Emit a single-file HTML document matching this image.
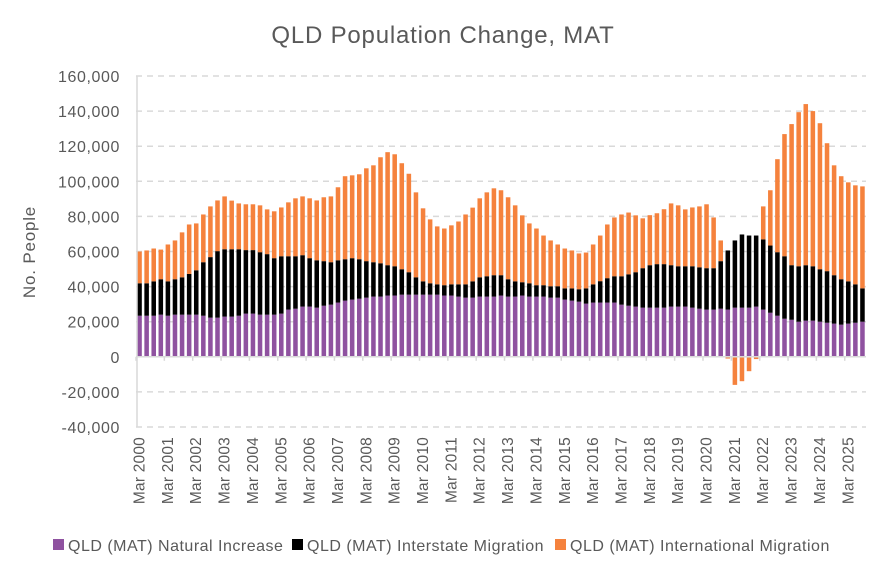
<!DOCTYPE html>
<html><head><meta charset="utf-8">
<style>
body{margin:0;background:#fff;}
svg{display:block;font-family:"Liberation Sans",sans-serif;}
</style></head>
<body>
<svg id="chart" width="886" height="576" viewBox="0 0 886 576">
<rect width="886" height="576" fill="#fff"/>
<text x="443" y="43" text-anchor="middle" font-size="24" letter-spacing="0.8" fill="#595959">QLD Population Change, MAT</text>
<text transform="translate(35,252) rotate(-90)" text-anchor="middle" font-size="17" letter-spacing="0.8" fill="#595959">No. People</text>
<g id="grid"></g><g id="bars"></g><g id="axes"></g>
<g font-size="16" letter-spacing="0.5">
<rect x="53" y="539" width="11" height="11" fill="#8f52a0"/>
<text x="68" y="551" fill="#595959">QLD (MAT) Natural Increase</text>
<rect x="292" y="539" width="11" height="11" fill="#000"/>
<text x="307" y="551" fill="#595959">QLD (MAT) Interstate Migration</text>
<rect x="555" y="539" width="11" height="11" fill="#f5823d"/>
<text x="570" y="551" fill="#595959">QLD (MAT) International Migration</text>
</g>
</svg>
<script>
const yTicks = [-40000,-20000,0,20000,40000,60000,80000,100000,120000,140000,160000];
const yTickLabels = ["-40,000","-20,000","0","20,000","40,000","60,000","80,000","100,000","120,000","140,000","160,000"];
const years = [2000,2001,2002,2003,2004,2005,2006,2007,2008,2009,2010,2011,2012,2013,2014,2015,2016,2017,2018,2019,2020,2021,2022,2023,2024,2025];
const naturalK = [23.4,23.4,23.4,24.0,23.4,24.0,24.0,24.0,24.0,23.4,22.3,22.3,22.9,22.9,23.4,24.6,24.6,24.0,24.0,24.0,24.6,26.9,27.4,28.6,28.6,28.0,29.1,29.7,30.9,32.0,32.6,33.1,33.7,34.3,34.3,34.9,34.9,35.4,35.4,35.4,35.4,35.4,35.4,34.9,34.9,34.3,33.7,33.7,34.3,34.3,34.3,34.9,34.3,34.3,34.9,34.3,34.3,34.3,33.7,33.7,32.6,32.0,31.4,30.3,30.9,30.9,30.9,30.9,29.7,29.1,28.6,28.0,28.0,28.0,28.0,28.6,28.6,28.6,28.0,27.4,26.9,26.9,27.4,26.9,28.0,28.0,28.0,28.6,26.9,25.1,23.4,21.7,21.1,20.0,20.6,20.6,20.0,19.4,18.9,18.3,18.9,19.4,20.0];
const interstateK = [18.5,18.5,19.6,20.2,19.6,20.2,21.3,23.2,25.3,30.5,34.5,37.9,38.4,38.4,37.9,36.2,36.2,35.6,34.5,32.2,32.7,30.4,29.9,29.3,27.6,27.0,25.4,24.2,24.1,23.6,23.6,22.5,20.8,19.6,19.0,17.3,16.7,14.5,12.8,9.9,7.6,6.5,5.9,5.9,6.4,7.0,7.6,9.3,11.0,11.6,12.2,11.6,9.9,8.7,7.6,7.6,6.5,6.5,6.5,6.5,6.4,7.0,7.1,8.7,10.4,12.2,13.9,15.0,16.2,17.9,19.6,22.5,24.2,24.8,24.8,23.6,23.0,23.0,23.6,23.6,23.6,23.6,27.1,33.7,38.3,41.7,41.1,40.5,40.0,38.3,36.2,35.6,31.1,31.6,31.6,31.0,29.9,29.4,27.6,25.9,24.1,21.9,19.0];
const internationalK = [18.1,18.7,18.7,16.9,21.0,22.1,25.6,28.2,26.7,27.2,28.9,28.9,30.1,27.7,26.1,26.1,26.1,26.7,25.5,26.7,27.8,30.7,33.0,33.5,34.1,34.1,36.4,37.5,41.6,47.3,47.2,48.4,52.9,55.2,60.4,64.4,63.8,60.4,56.1,48.4,41.6,36.4,33.0,32.3,33.6,35.8,39.8,42.0,45.0,47.8,49.5,48.4,46.7,43.3,38.1,34.1,32.3,28.3,26.1,23.8,22.7,21.6,20.4,20.4,22.7,26.0,30.6,33.5,35.2,35.2,32.4,28.4,28.5,29.0,31.3,35.2,34.7,32.4,33.5,34.7,36.4,28.9,11.8,-1.0,-16.0,-13.9,-8.2,-1.3,18.8,31.5,53.0,69.6,80.4,87.8,91.8,88.4,83.2,72.9,62.6,58.7,56.4,56.4,58.1];

const NS = "http://www.w3.org/2000/svg";
const X0 = 136, X1 = 866, YTOP = 76, YBOT = 427, VMIN = -40000, VMAX = 160000;
const n = naturalK.length;
const step = (X1 - X0) / n;
const bw = step * 0.64;
function yScale(v){ return YBOT - (v - VMIN) / (VMAX - VMIN) * (YBOT - YTOP); }
function xCenter(i){ return X0 + (i + 0.5) * step; }
function mk(tag, attrs, parent){ const e = document.createElementNS(NS, tag); for (const k in attrs) e.setAttribute(k, attrs[k]); parent.appendChild(e); return e; }

const grid = document.getElementById('grid');
const axes = document.getElementById('axes');
const bars = document.getElementById('bars');
yTicks.forEach((t, k) => {
  const y = yScale(t);
  if (t !== 0) {
    const l = mk('line', {x1: X0, x2: X1, y1: y, y2: y, stroke: '#d9d9d9', 'stroke-width': 1.5, 'stroke-dasharray': '6,5'}, grid);
    
    
  }
  const tx = mk('text', {x: 120, y: y + 6, 'text-anchor': 'end', 'font-size': 16, 'letter-spacing': 0.6, fill: '#595959'}, axes);
  tx.textContent = yTickLabels[k];
  
  
});
const ya = mk('line', {x1: X0 + 1, x2: X0 + 1, y1: YTOP, y2: YBOT, stroke: '#d9d9d9', 'stroke-width': 1.5}, axes);


const za = mk('line', {x1: X0, x2: X1, y1: yScale(0), y2: yScale(0), stroke: '#d9d9d9', 'stroke-width': 1.5}, axes);



function bar(x, v0, v1, color, name){
  const ya = yScale(Math.max(v0, v1)), yb = yScale(Math.min(v0, v1));
  const r = mk('rect', {x: x - bw / 2, y: ya, width: bw, height: Math.max(0, yb - ya), fill: color}, bars);
  
  
}
for (let i = 0; i < n; i++) {
  const x = xCenter(i);
  const p = naturalK[i] * 1000, b = interstateK[i] * 1000, o = internationalK[i] * 1000;
  bar(x, 0, p, '#8f52a0', 'bar-natural-increase');
  bar(x, p, p + b, '#000000', 'bar-interstate-migration');
  if (o >= 0) bar(x, p + b, p + b + o, '#f5823d', 'bar-international-migration');
  else bar(x, 0, o, '#f5823d', 'bar-international-migration');
  if (i % 4 === 0) {
    const tk = mk('line', {x1: X0 + i * step, x2: X0 + i * step, y1: yScale(0), y2: yScale(0) + 4, stroke: '#d9d9d9', 'stroke-width': 1.5}, axes);
    
    
  }
}
years.forEach((yr, k) => {
  const x = xCenter(k * 4) + 5;
  const t = mk('text', {transform: `translate(${x},${YBOT + 10}) rotate(-90)`, 'text-anchor': 'end', 'font-size': 15.5, 'letter-spacing': 0.2, fill: '#595959'}, axes);
  t.textContent = 'Mar ' + yr;
  
  
});
</script>
</body></html>
